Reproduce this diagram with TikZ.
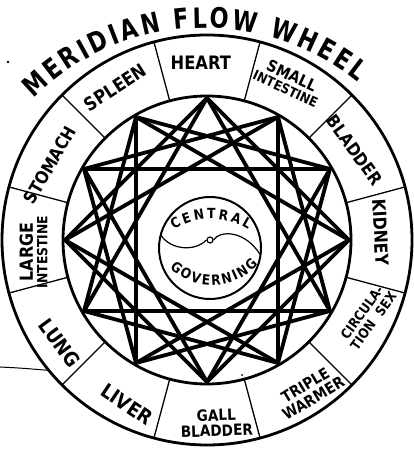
\documentclass[tikz,border=0pt]{standalone}
\usepackage{fontspec}
\setmainfont{DejaVu Sans}[FakeStretch=0.88]
\newfontfamily\titlefont{DejaVu Sans}[FakeStretch=0.8]
\usetikzlibrary{calc,decorations.text}
\newcommand\fs[1]{\fontsize{#1}{#1}\selectfont}
\newcommand\fsb[2]{\bfseries\fontsize{#1}{#2}\selectfont}
\tikzset{
  lab/.style={align=center, inner sep=0pt},
  starline/.style={line width=3.8pt, line cap=round, line join=round},
  divider/.style={line width=1.3pt},
  ringline/.style={line width=2.8pt},
}
\begin{document}
\begin{tikzpicture}[x=1pt,y=1pt]
\useasboundingbox (0,0) rectangle (413,455);
\coordinate (C) at (207,215);
\coordinate (CC) at (210,207);
% rings
\draw[ringline] (C) circle[radius=205];
\draw[ringline] (C) circle[radius=144];
\foreach \k in {0,...,11}{
  \draw[divider] ($(C)+({15+30*\k}:144)$) -- ($(C)+({15+30*\k}:205)$);
}
% star
\foreach \k in {0,...,11}{
  \coordinate (v\k) at ($(C)+({90-30*\k}:142)$);
}
\foreach \k in {0,...,11}{
  \pgfmathtruncatemacro\a{mod(\k+3,12)}
  \pgfmathtruncatemacro\b{mod(\k+4,12)}
  \draw[starline] (v\k) -- (v\a);
  \draw[starline] (v\k) -- (v\b);
}
% central circle
\draw[line width=2pt, fill=white] (CC) circle[radius=51];
\node[circle, draw, line width=1.2pt, minimum size=6pt, inner sep=0pt] (dot) at (210,215) {};
\coordinate (cl) at ($(CC)+(165:51)$);
\coordinate (cr) at ($(CC)+(-8:51)$);
\draw[line width=1.2pt] (cl) .. controls (170,205) and (195,203) .. (dot.west);
\draw[line width=1.2pt] (dot.east) .. controls (220,225) and (245,225) .. (cr);
\path[decorate, decoration={text along path, text={|\bfseries\fs{14}|CENTRAL}, text align={fit to path}}]
  ($(211,168)+(123:68)$) arc[start angle=123, end angle=57, radius=68];
\path[decorate, decoration={text along path, text={|\bfseries\fs{14}|GOVERNING}, text align={fit to path}}]
  ($(212,232)+(227:62)$) arc[start angle=227, end angle=318, radius=62];
% title
\path[decorate, decoration={text along path, text={|\titlefont\bfseries\fs{28}|MERIDIAN FLOW WHEEL}, text align={fit to path}}]
  ($(205,185)+(135:242)$) arc[start angle=135, end angle=51, radius=242];
% labels
\node[lab, font=\fsb{18.5}{19}, rotate=0]   (heart)   at ($(C)+(92:177)$)    {HEART};
\node[lab, font=\fsb{18.5}{19}, rotate=33]  (spleen)  at ($(C)+(121:178)$)   {SPLEEN};
\node[lab, font=\fsb{17.5}{18}, rotate=60]  (stomach) at ($(C)+(154.5:174)$) {STOMACH};
\node[lab, font=\fsb{18}{14.5}, rotate=90]  (large)   at ($(C)+(184:174)$)   {LARGE\\\fs{14}INTESTINE};
\node[lab, font=\fsb{20}{20}, rotate=-54]   (lung)    at ($(C)+(-145:180)$)  {LUNG};
\node[lab, font=\fsb{20}{20}, rotate=-34]   (liver)   at ($(C)+(-116:183)$)  {LIVER};
\node[lab, font=\fsb{15.5}{15.5}, rotate=2]   (gall)    at ($(C)+(-87:183)$)   {GALL\\BLADDER};
\node[lab, font=\fsb{15.5}{15.5}, rotate=31]  (triple)  at ($(C)+(-56:183)$)   {TRIPLE\\WARMER};
\node[lab, font=\fsb{13.5}{14}, rotate=54]  (circ)    at ($(C)+(-25.5:178)$) {CIRCULA-\\TION\hspace{0.7em}SEX};
\node[lab, font=\fsb{18}{18}, rotate=-87]   (kidney)  at ($(C)+(2.6:174)$)   {KIDNEY};
\node[lab, font=\fsb{17.5}{18}, rotate=-54] (bladder) at ($(C)+(31.3:173)$)  {BLADDER};
\node[lab, font=\fsb{16}{14}, rotate=-25]   (small)   at ($(C)+(62.6:178)$)  {SMALL\\\fs{13.5}INTESTINE};
% stray marks
\coordinate (s0) at (0,88);
\coordinate (s1) at ($(C)+(219.5:205)$);
\draw[line width=1pt] (s0) .. controls (20,87) .. (s1);
\fill (8,393) circle[radius=1.3];
\fill (242,80) circle[radius=1];
\end{tikzpicture}
\end{document}
